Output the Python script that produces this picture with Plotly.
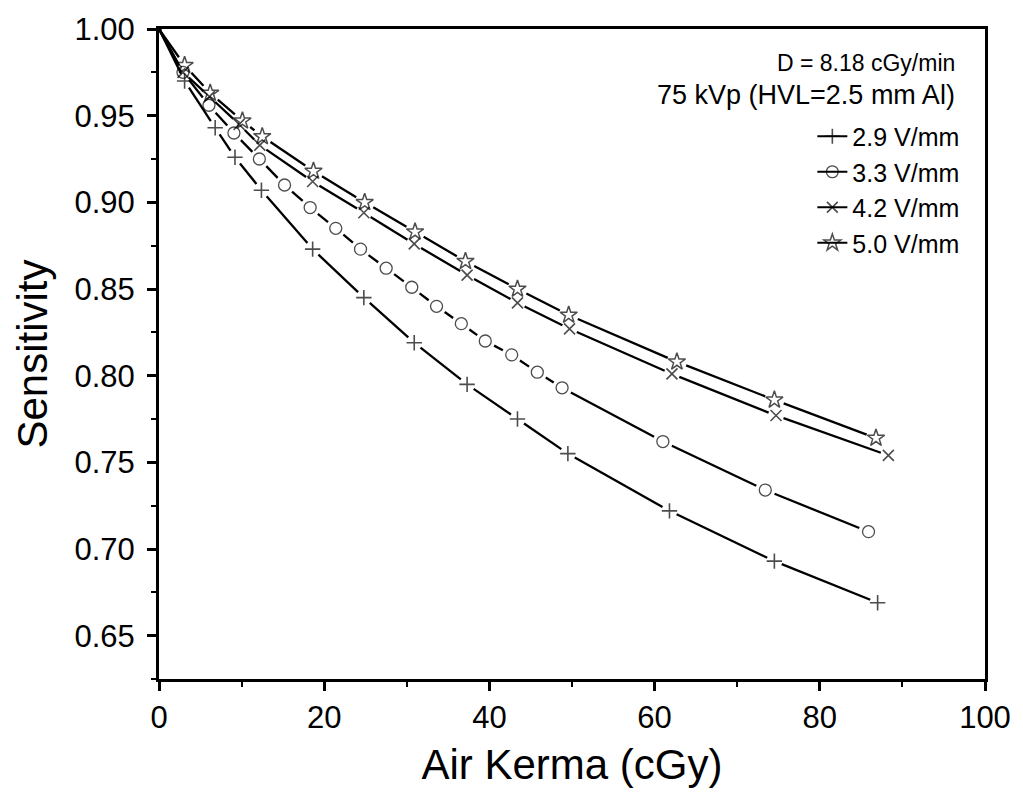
import plotly.graph_objects as go
import math

# Air kerma (cGy) and sensitivity for each field strength
x_29 = [0, 3.1, 6.8, 9.2, 12.4, 18.6, 24.8, 30.9, 37.3, 43.4, 49.5, 61.8, 74.5, 87.0]
y_29 = [1.000, 0.970, 0.943, 0.926, 0.907, 0.873, 0.845, 0.819, 0.795, 0.775, 0.755, 0.722, 0.693, 0.669]

x_33 = [0, 2.9, 6.05, 9.07, 12.15, 15.2, 18.3, 21.4, 24.4, 27.5, 30.6, 33.6, 36.6, 39.5, 42.7, 45.8, 48.8, 61.0, 73.4, 85.9]
y_33 = [1.000, 0.975, 0.956, 0.940, 0.925, 0.910, 0.897, 0.885, 0.873, 0.862, 0.851, 0.840, 0.830, 0.820, 0.812, 0.802, 0.793, 0.762, 0.734, 0.710]

x_42 = [0, 2.9, 6.1, 9.7, 12.2, 18.6, 24.8, 30.9, 37.3, 43.4, 49.7, 62.1, 74.7, 88.3]
y_42 = [1.000, 0.975, 0.961, 0.945, 0.933, 0.912, 0.894, 0.876, 0.858, 0.842, 0.827, 0.801, 0.777, 0.754]

x_50 = [0, 3.1, 6.2, 10.1, 12.5, 18.7, 24.9, 31.0, 37.1, 43.4, 49.6, 62.7, 74.5, 86.8]
y_50 = [1.000, 0.979, 0.963, 0.947, 0.938, 0.918, 0.900, 0.883, 0.866, 0.850, 0.835, 0.808, 0.786, 0.764]

series_names = ["2.9 V/mm", "3.3 V/mm", "4.2 V/mm", "5.0 V/mm"]
x_ticks = [0, 20, 40, 60, 80, 100]
y_ticks = [0.65, 0.70, 0.75, 0.80, 0.85, 0.90, 0.95, 1.00]
note_lines = ["D = 8.18 cGy/min", "75 kVp (HVL=2.5 mm Al)"]

FONT = "Liberation Sans, Arial, sans-serif"

X_RANGE = [0, 100]
Y_RANGE = [0.625, 1.0]
W, H = 1023, 795
M = dict(l=159, r=33, t=27, b=116)
PX_X = (W - M["l"] - M["r"]) / (X_RANGE[1] - X_RANGE[0])
PX_Y = (H - M["t"] - M["b"]) / (Y_RANGE[1] - Y_RANGE[0])

styles = [
    dict(symbol="cross-thin-open", size=11, lw=1.6, gap=8),
    dict(symbol="circle-open", size=12, lw=1.3, gap=10),
    dict(symbol="x-thin-open", size=11, lw=1.6, gap=8),
    dict(symbol="star-open", size=13, lw=1.5, gap=10),
]

data = [(x_29, y_29), (x_33, y_33), (x_42, y_42), (x_50, y_50)]


def gapped_segments(xs, ys, gap):
    """Connecting segments that stop short of each marker (Origin style)."""
    sx, sy = [], []
    for i in range(len(xs) - 1):
        x0, y0, x1, y1 = xs[i], ys[i], xs[i + 1], ys[i + 1]
        dxp, dyp = (x1 - x0) * PX_X, (y1 - y0) * PX_Y
        L = math.hypot(dxp, dyp)
        g0 = 0 if i == 0 else gap
        g1 = gap
        if L <= g0 + g1:
            continue
        t0, t1 = g0 / L, 1 - g1 / L
        sx += [x0 + (x1 - x0) * t0, x0 + (x1 - x0) * t1, None]
        sy += [y0 + (y1 - y0) * t0, y0 + (y1 - y0) * t1, None]
    return sx, sy


fig = go.Figure()
for (xs, ys), name, st in zip(data, series_names, styles):
    sx, sy = gapped_segments(xs, ys, st["gap"])
    fig.add_trace(go.Scatter(
        x=sx, y=sy, mode="lines", showlegend=False, hoverinfo="skip",
        line=dict(color="black", width=2.3),
    ))
    # markers; None between points so no line is drawn, but legend shows line+marker
    mx, my, ms = [], [], []
    for i, (a, b) in enumerate(zip(xs, ys)):
        mx += [a, None]
        my += [b, None]
        ms += [4 if i == 0 else st["size"], st["size"]]
    fig.add_trace(go.Scatter(
        x=mx, y=my, mode="lines+markers", name=name, connectgaps=False,
        line=dict(color="black", width=2),
        marker=dict(symbol=st["symbol"], size=ms, color="black",
                    line=dict(color="black", width=st["lw"])),
    ))

axis_common = dict(
    showgrid=False, zeroline=False, showline=True, linecolor="black", linewidth=3,
    mirror=True, ticks="outside", ticklen=9, tickwidth=2.5, tickcolor="black",
    tickfont=dict(family=FONT, size=31, color="black"),
)

fig.update_xaxes(
    range=X_RANGE, tickvals=x_ticks, ticktext=[str(v) for v in x_ticks],
    minor=dict(ticks="outside", ticklen=5, tickwidth=2, tickcolor="black", dtick=10, tick0=0),
    title=dict(text="Air Kerma (cGy)", font=dict(family=FONT, size=42, color="black"), standoff=16),
    **axis_common,
)
fig.update_yaxes(
    range=Y_RANGE, tickvals=y_ticks, ticktext=[f"{v:.2f}" for v in y_ticks],
    minor=dict(ticks="outside", ticklen=5, tickwidth=2, tickcolor="black", dtick=0.025, tick0=0.625),
    title=dict(text="Sensitivity", font=dict(family=FONT, size=42, color="black"), standoff=14),
    ticklabelstandoff=6,
    **axis_common,
)

note_y = [0.948, 0.899]
note_size = [23, 27]
for txt, yy, fs in zip(note_lines, note_y, note_size):
    fig.add_annotation(
        xref="paper", yref="paper", x=0.966, y=yy,
        xanchor="right", yanchor="middle", showarrow=False, text=txt,
        font=dict(family=FONT, size=fs, color="black"),
    )

fig.update_layout(
    width=W, height=H,
    margin=M,
    paper_bgcolor="white", plot_bgcolor="white",
    legend=dict(
        x=0.975, xanchor="right", y=0.870, yanchor="top",
        font=dict(family=FONT, size=25, color="black"),
        bgcolor="rgba(0,0,0,0)", borderwidth=0, itemwidth=30, tracegroupgap=0,
    ),
)

fig.write_html("out.html")
